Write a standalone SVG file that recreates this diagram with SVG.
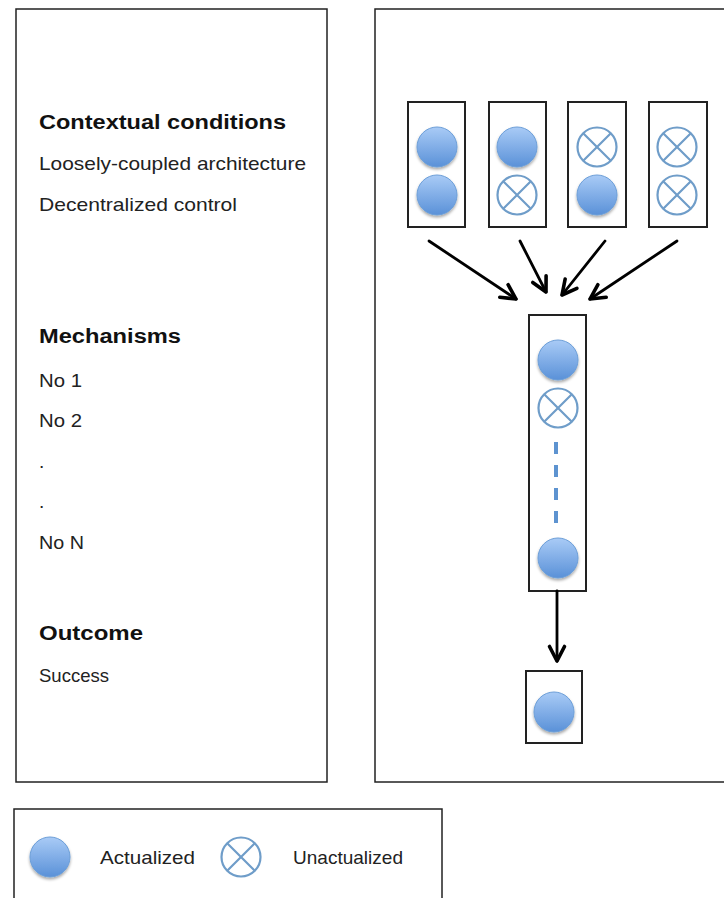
<svg xmlns="http://www.w3.org/2000/svg" width="724" height="898" viewBox="0 0 724 898">
<defs>
<linearGradient id="g" x1="0" y1="0" x2="0" y2="1">
<stop offset="0" stop-color="#a9cbf6"/>
<stop offset="1" stop-color="#5a91d8"/>
</linearGradient>
<filter id="sh" x="-30%" y="-30%" width="160%" height="170%">
<feGaussianBlur in="SourceAlpha" stdDeviation="1.5"/>
<feOffset dy="2" result="b"/>
<feComponentTransfer><feFuncA type="linear" slope="0.35"/></feComponentTransfer>
<feMerge><feMergeNode/><feMergeNode in="SourceGraphic"/></feMerge>
</filter>
<marker id="ah" viewBox="0 0 20 20" refX="17" refY="10" markerWidth="20" markerHeight="20" markerUnits="userSpaceOnUse" orient="auto">
<path d="M2.5,2.5 L17,10 L2.5,17.5" fill="none" stroke="#000" stroke-width="3.6" stroke-linecap="round" stroke-linejoin="round"/>
</marker>
<g id="act"><circle r="20" fill="url(#g)" stroke="#6d9fd8" stroke-width="1" filter="url(#sh)"/></g>
<g id="un"><circle r="19.5" fill="#fff" stroke="#6f9dc9" stroke-width="2.2"/><path d="M-13.8,-13.8 L13.8,13.8 M13.8,-13.8 L-13.8,13.8" stroke="#6f9dc9" stroke-width="2.2"/></g>
</defs>
<style>
.panel{fill:#fff;stroke:#222;stroke-width:1.5}
.box{fill:#fff;stroke:#222;stroke-width:2}
.h{font-family:"Liberation Sans",Arial,sans-serif;font-weight:bold;font-size:20px;fill:#111}
.t{font-family:"Liberation Sans",Arial,sans-serif;font-size:19px;fill:#222}
.conn{stroke:#000;stroke-width:2.8;fill:none;stroke-linecap:round}
</style>
<rect width="724" height="898" fill="#fff"/>
<g id="left-panel">
<rect class="panel" x="16" y="9" width="311" height="773"/>
<text class="h" x="39" y="129" textLength="247" lengthAdjust="spacingAndGlyphs">Contextual conditions</text>
<text class="t" x="39" y="170" textLength="267" lengthAdjust="spacingAndGlyphs">Loosely-coupled architecture</text>
<text class="t" x="39" y="211" textLength="198" lengthAdjust="spacingAndGlyphs">Decentralized control</text>
<text class="h" x="39" y="343" textLength="142" lengthAdjust="spacingAndGlyphs">Mechanisms</text>
<text class="t" x="39" y="387" textLength="43" lengthAdjust="spacingAndGlyphs">No 1</text>
<text class="t" x="39" y="427" textLength="43" lengthAdjust="spacingAndGlyphs">No 2</text>
<text class="t" x="39" y="468">.</text>
<text class="t" x="39" y="508">.</text>
<text class="t" x="39" y="549" textLength="45" lengthAdjust="spacingAndGlyphs">No N</text>
<text class="h" x="39" y="640" textLength="104" lengthAdjust="spacingAndGlyphs">Outcome</text>
<text class="t" x="39" y="682" textLength="70" lengthAdjust="spacingAndGlyphs">Success</text>
</g>
<g id="right-panel">
<rect class="panel" x="375" y="9" width="360" height="773"/>
</g>
<g id="box1">
<rect class="box" x="408" y="102" width="57" height="125"/>
<use href="#act" x="437" y="147"/>
<use href="#act" x="437" y="195"/>
</g>
<g id="box2">
<rect class="box" x="489" y="102" width="57" height="125"/>
<use href="#act" x="517" y="147"/>
<use href="#un" x="517" y="195"/>
</g>
<g id="box3">
<rect class="box" x="568" y="102" width="58" height="125"/>
<use href="#un" x="597" y="147"/>
<use href="#act" x="597" y="195"/>
</g>
<g id="box4">
<rect class="box" x="649" y="102" width="58" height="125"/>
<use href="#un" x="677" y="147"/>
<use href="#un" x="677" y="195"/>
</g>
<g id="middle-box">
<rect class="box" x="529" y="315" width="57" height="276"/>
<use href="#act" x="558" y="360"/>
<use href="#un" x="558" y="408"/>
<line x1="556" y1="442" x2="556" y2="526" stroke="#5d93d0" stroke-width="4" stroke-dasharray="12,11"/>
<use href="#act" x="558" y="558"/>
</g>
<g id="outcome-box">
<rect class="box" x="526" y="671" width="56" height="72"/>
<use href="#act" x="554" y="712"/>
</g>
<g id="connectors">
<line class="conn" x1="429" y1="241" x2="516" y2="299" marker-end="url(#ah)"/>
<line class="conn" x1="520" y1="241" x2="546" y2="292" marker-end="url(#ah)"/>
<line class="conn" x1="605" y1="241" x2="562" y2="295" marker-end="url(#ah)"/>
<line class="conn" x1="677" y1="241" x2="590" y2="299" marker-end="url(#ah)"/>
<line class="conn" x1="557" y1="591" x2="557" y2="661" marker-end="url(#ah)"/>
</g>
<g id="legend">
<rect class="panel" x="14" y="809" width="428" height="100"/>
<use href="#act" x="50" y="857"/>
<text class="t" x="100" y="864" textLength="95" lengthAdjust="spacingAndGlyphs">Actualized</text>
<use href="#un" x="241" y="857"/>
<text class="t" x="293" y="864" textLength="110" lengthAdjust="spacingAndGlyphs">Unactualized</text>
</g>
</svg>
